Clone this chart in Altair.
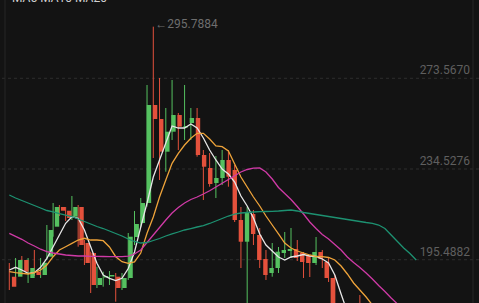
import altair as alt
import pandas as pd

# ---- candle data (index, open, high, low, close) ----
idx = list(range(53)) + [56]
opens = [188.18, 188.18, 195.37, 187.62, 190.33, 188.91, 196.79, 209.70, 218.18, 216.58,
         214.00, 218.18, 202.68, 198.38, 184.61, 187.83, 188.27, 188.18, 183.31, 187.62,
         205.27, 211.29, 219.90, 262.08, 256.05, 241.98, 250.59, 257.77, 252.39, 254.33,
         256.48, 240.56, 234.96, 228.51, 230.66, 238.41, 234.10, 212.58, 203.24, 215.16,
         206.13, 195.80, 189.77, 191.92, 198.38, 199.24, 200.10, 198.38, 197.09, 194.07,
         198.81, 194.51, 187.62, 170.00]
highs = [194.07, 196.23, 197.09, 196.23, 199.67, 196.23, 210.43, 219.90, 219.04, 218.18,
         222.91, 219.04, 203.97, 198.94, 192.48, 190.33, 190.63, 189.77, 189.77, 206.99,
         216.46, 222.05, 270.69, 295.7884, 273.70, 260.79, 272.84, 258.63, 270.69, 260.79,
         260.79, 242.71, 241.42, 240.13, 242.71, 242.71, 236.25, 218.18, 218.18, 216.89,
         209.14, 199.67, 202.68, 200.96, 207.42, 209.14, 203.97, 198.81, 197.52, 205.27,
         199.67, 196.23, 188.91, 180.30]
lows = [182.45, 187.62, 188.91, 185.47, 188.48, 187.62, 195.37, 205.39, 214.30, 212.15,
        212.58, 201.09, 193.21, 181.16, 183.31, 183.88, 184.61, 177.42, 182.45, 186.76,
        201.82, 209.57, 218.31, 239.27, 229.80, 233.37, 247.01, 242.71, 247.01, 247.01,
        239.83, 221.19, 226.91, 222.05, 227.65, 226.91, 211.72, 191.92, 176.00, 201.82,
        191.92, 186.76, 188.18, 189.77, 196.23, 196.23, 194.94, 187.62, 188.05, 193.21,
        191.92, 185.90, 171.70, 162.00]
closes = [183.88, 195.37, 190.33, 191.92, 188.91, 194.20, 208.28, 218.18, 216.58, 213.44,
          218.18, 201.82, 194.07, 184.61, 187.62, 188.48, 188.91, 183.31, 187.62, 205.39,
          210.86, 219.90, 262.08, 256.05, 241.98, 250.59, 257.77, 252.74, 253.04, 256.48,
          240.56, 235.52, 228.08, 230.66, 238.41, 231.22, 212.58, 203.24, 216.03, 206.56,
          195.37, 188.91, 191.92, 198.94, 199.67, 200.10, 196.23, 194.51, 194.07, 198.81,
          195.80, 187.62, 173.85, 165.00]

# ---- moving averages ----
ma5 = [191.06, 192.22, 191.06, 189.64, 189.90, 192.22, 196.10, 201.09, 206.13, 211.16,
       214.00, 213.31, 208.28, 201.09, 193.95, 188.91, 187.49, 186.54, 187.49, 191.71,
       198.81, 209.57, 219.90, 231.09, 238.41, 245.72, 253.04, 252.18, 252.18, 253.90,
       252.18, 247.87, 242.71, 238.41, 234.53, 232.38, 228.94, 222.91, 218.61, 213.44,
       206.56, 201.82, 199.24, 196.66, 195.37, 196.66, 197.09, 197.73, 197.09, 196.87,
       195.80, 194.07, 188.91, 180.73, 172.99, 167.40]
ma10 = [190.33, 189.90, 189.64, 189.34, 189.90, 191.06, 193.21, 196.79, 199.67, 201.09,
        202.55, 203.97, 204.71, 203.97, 203.97, 203.67, 200.96, 196.79, 194.63, 193.95,
        194.51, 198.38, 206.86, 213.87, 222.48, 229.80, 236.99, 241.29, 244.86, 247.75,
        249.90, 249.90, 247.44, 244.43, 244.13, 242.28, 236.68, 231.09, 226.79, 222.48,
        218.61, 214.30, 210.43, 206.56, 202.68, 200.53, 199.24, 198.38, 197.52, 196.87,
        196.79, 196.44, 195.37, 192.78, 189.34, 185.47, 182.45, 179.44, 176.00, 172.99]
ma20 = [206.86, 205.57, 204.27, 202.68, 201.39, 200.01, 199.02, 198.38, 197.95, 197.52,
        197.30, 197.09, 197.09, 196.96, 196.92, 196.87, 196.83, 196.79, 196.83, 197.00,
        197.95, 199.67, 202.90, 206.13, 209.35, 212.58, 215.59, 217.96, 219.90, 221.40,
        222.48, 223.77, 225.19, 226.79, 228.38, 230.01, 231.65, 233.24, 234.32, 234.88,
        234.96, 233.24, 230.23, 226.57, 223.99, 221.40, 218.39, 215.16, 211.72, 208.92,
        206.34, 204.40, 202.04, 199.67, 196.66, 194.29, 192.14, 189.77, 187.19, 184.39,
        181.81, 179.01, 176.43, 173.85]
ma60 = [223.34, 222.05, 220.97, 219.90, 218.82, 217.75, 216.67, 216.03, 215.29, 214.73,
        214.09, 213.01, 211.94, 210.86, 209.78, 208.92, 207.85, 206.77, 205.70, 204.40,
        203.33, 202.68, 202.90, 203.76, 204.62, 205.70, 206.56, 207.42, 208.28, 208.92,
        209.57, 210.21, 211.08, 212.15, 213.23, 214.30, 215.16, 215.59, 215.81, 216.03,
        216.15, 216.24, 216.33, 216.46, 216.67, 216.89, 216.46, 215.81, 215.38, 214.95,
        214.52, 214.09, 213.66, 213.23, 212.80, 212.37, 211.94, 211.51, 211.16, 210.43,
        208.92, 206.13, 203.33, 200.53, 198.16, 195.37]

levels = [273.5670, 234.5276, 195.4882]
level_labels = ["273.5670", "234.5276", "195.4882"]
max_idx = 23
max_val = 295.7884
max_label = "←295.7884"
header = "MA5 MA10 MA20"

series_names = ["MA5", "MA10", "MA20", "MA60"]
series_colors = ["#e6e6e6", "#eea33a", "#cf3aa6", "#1d9171"]
UP, DOWN = "#55c160", "#e4513c"

# ---- tables ----
candles = pd.DataFrame({"idx": idx, "open": opens, "high": highs, "low": lows, "close": closes})
candles["dir"] = ["up" if c >= o else "down" for o, c in zip(opens, closes)]

rows = []
for name, vals in zip(series_names, [ma5, ma10, ma20, ma60]):
    for i, v in enumerate(vals):
        rows.append({"idx": i, "value": v, "series": name})
lines = pd.DataFrame(rows)
grid = pd.DataFrame({"level": levels, "label": level_labels})
maxdf = pd.DataFrame({"idx": [max_idx], "value": [max_val], "label": [max_label]})
hdr = pd.DataFrame({"t": [header]})

xs = alt.Scale(domain=[-1.486, 75.03], nice=False, zero=False)
ys = alt.Scale(domain=[176.86, 307.27], nice=False, zero=False)
col = alt.Color("dir:N", scale=alt.Scale(domain=["up", "down"], range=[UP, DOWN]), legend=None)

gridlines = alt.Chart(grid).mark_rule(color="#2e2e2e", strokeDash=[3, 3], strokeWidth=1).encode(
    y=alt.Y("level:Q", scale=ys, axis=None))
borders = alt.Chart(pd.DataFrame({"bx": [5, 473]})).mark_rule(color="#262626", strokeWidth=1).encode(
    x=alt.X("bx:Q", scale=alt.Scale(domain=[0, 479], range=[0, 479]), axis=None))

wicks = alt.Chart(candles).mark_rule(strokeWidth=1, clip=True).encode(
    x=alt.X("idx:Q", scale=xs, axis=None),
    y=alt.Y("low:Q", scale=ys, axis=None), y2="high:Q", color=col)
bodies = alt.Chart(candles).mark_bar(size=4.4, clip=True).encode(
    x=alt.X("idx:Q", scale=xs, axis=None),
    y=alt.Y("open:Q", scale=ys, axis=None), y2="close:Q", color=col)

ma = alt.Chart(lines).mark_line(strokeWidth=1.3, clip=True).encode(
    x=alt.X("idx:Q", scale=xs, axis=None),
    y=alt.Y("value:Q", scale=ys, axis=None),
    color=alt.Color("series:N", scale=alt.Scale(domain=series_names, range=series_colors), legend=None),
    detail="series:N")

labels = alt.Chart(grid).mark_text(align="right", baseline="bottom", dy=-1, fontSize=12,
                                   font="Roboto", color="#5f5f5f").encode(
    x=alt.value(470), y=alt.Y("level:Q", scale=ys, axis=None), text="label:N")

maxtext = alt.Chart(maxdf).mark_text(align="left", baseline="middle", dx=2, dy=-3, fontSize=12,
                                     font="Roboto", color="#6e6e6e").encode(
    x=alt.X("idx:Q", scale=xs, axis=None), y=alt.Y("value:Q", scale=ys, axis=None), text="label:N")

headtext = alt.Chart(hdr).mark_text(align="left", baseline="alphabetic", fontSize=12,
                                    font="Roboto", color="#d0d0d0").encode(
    x=alt.value(12), y=alt.value(2), text="t:N")

chart = alt.layer(gridlines, borders, wicks, bodies, ma, labels, maxtext, headtext).resolve_scale(
    x="independent", color="independent").properties(
    width=479, height=303, padding=0, background="#131313",
    autosize=alt.AutoSizeParams(type="none")
).configure_view(stroke=None)

chart.save("out.html", embed_options={"renderer": "svg", "actions": False})
